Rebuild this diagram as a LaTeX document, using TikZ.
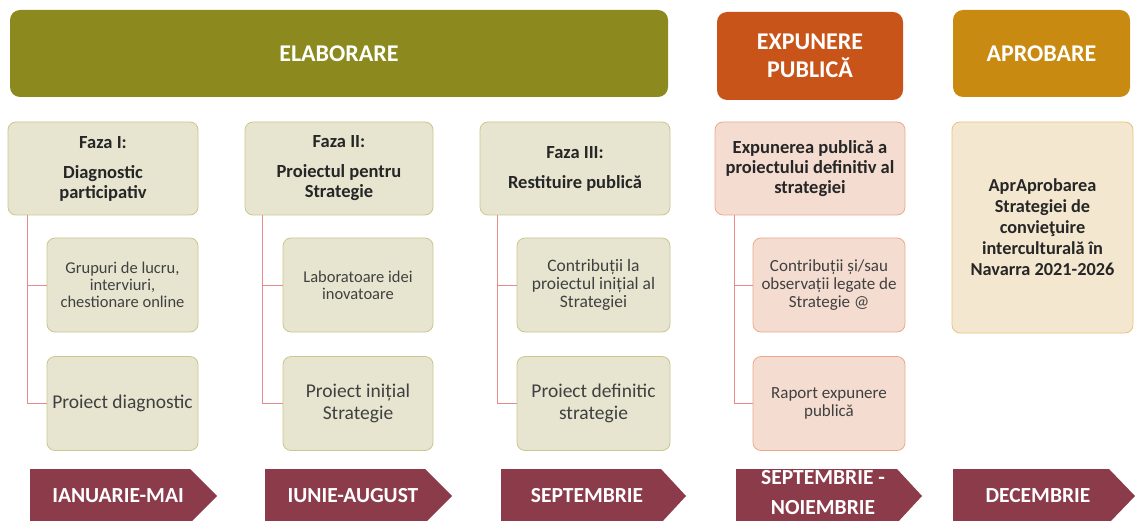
\documentclass[tikz,border=0pt]{standalone}
\usepackage{fontspec}
\setmainfont{Carlito}
\usepackage{xcolor}
\usepackage{tikz}

% culori
\definecolor{elabcol}{HTML}{8C8A1F}
\definecolor{expcol}{HTML}{C9541A}
\definecolor{aprcol}{HTML}{C98A12}
\definecolor{fazafill}{HTML}{E7E5D0}
\definecolor{fazadraw}{HTML}{C8C88C}
\definecolor{expfill}{HTML}{F4DDD0}
\definecolor{expdraw}{HTML}{EDA88A}
\definecolor{aprfill}{HTML}{F4E7D0}
\definecolor{aprdraw}{HTML}{EBC17E}
\definecolor{lunacol}{HTML}{8C3B4A}
\definecolor{liniecol}{HTML}{E88A8A}
\definecolor{textcol}{HTML}{262626}
\definecolor{subtextcol}{HTML}{404040}

\begin{document}
\begin{tikzpicture}[x=1pt,y=-1pt,
    antet/.style={rounded corners=10pt, inner sep=0pt, text=white, align=center,
        font=\bfseries\fontsize{24}{28}\selectfont},
    faza/.style={draw=fazadraw, fill=fazafill, line width=0.8pt, rounded corners=8pt,
        inner sep=0pt, minimum width=190pt, minimum height=93pt, align=center, text=textcol,
        font=\bfseries\fontsize{18.5}{20}\selectfont},
    sub/.style={faza, minimum width=151pt, minimum height=94pt, text=subtextcol,
        font=\fontsize{16.5}{17}\selectfont},
    mare/.style={font=\fontsize{19.5}{22}\selectfont},
    trunchi/.style={draw=liniecol, line width=0.8pt},
    luna/.style={text=white, align=center, font=\bfseries\fontsize{21.5}{30}\selectfont}
]
    \useasboundingbox (0,0) rectangle (1135,521);

    % antete
    \node[antet, fill=elabcol, minimum width=658pt, minimum height=87pt] (elab) at (339,53.5) {ELABORARE};
    \node[antet, fill=expcol, minimum width=186pt, minimum height=88pt] (expH) at (810,56) {EXPUNERE\\PUBLICĂ};
    \node[antet, fill=aprcol, minimum width=177pt, minimum height=87pt] (aprH) at (1041.5,53.5) {APROBARE};

    % fazele
    \node[faza] (f1) at (103,168.5) {Faza I:\\[10pt]Diagnostic\\participativ};
    \node[faza, minimum width=188pt] (f2) at (339,168.5) {Faza II:\\[10pt]Proiectul pentru\\Strategie};
    \node[faza] (f3) at (575,168.5) {Faza III:\\[10pt]Restituire publică};
    \node[faza, draw=expdraw, fill=expfill] (f4) at (810,168.5) {Expunerea publică a\\proiectului definitiv al\\strategiei};
    \node[faza, draw=aprdraw, fill=aprfill, minimum width=181pt, minimum height=211pt,
        font=\bfseries\fontsize{18.3}{21}\selectfont] (f5) at (1042.5,227.5)
        {AprAprobarea\\Strategiei de\\convieţuire\\interculturală în\\Navarra 2021-2026};

    % subactivitati
    \node[sub] (s11) at (122.5,285) {Grupuri de lucru,\\interviuri,\\chestionare online};
    \node[sub, mare] (s12) at (122.5,403.5) {Proiect diagnostic};
    \node[sub, minimum width=150pt] (s21) at (358,285) {Laboratoare idei\\inovatoare};
    \node[sub, mare, minimum width=150pt] (s22) at (358,403.5) {Proiect inițial\\Strategie};
    \node[sub, minimum width=153pt, font=\fontsize{17.5}{18}\selectfont] (s31) at (593.5,285) {Contribuții la\\proiectul inițial al\\Strategiei};
    \node[sub, mare, minimum width=153pt] (s32) at (593.5,403.5) {Proiect definitic\\strategie};
    \node[sub, draw=expdraw, fill=expfill, minimum width=152pt, font=\fontsize{17}{18}\selectfont] (s41) at (829,285) {Contribuții și/sau\\observații legate de\\Strategie @};
    \node[sub, draw=expdraw, fill=expfill, minimum width=152pt, font=\fontsize{17}{18}\selectfont] (s42) at (829,403.5) {Raport expunere\\publică};

    % linii de legatura
    \draw[trunchi] ([xshift=20pt]f1.south west) |- (s11.west);
    \draw[trunchi] ([xshift=20pt]f1.south west) |- (s12.west);
    \draw[trunchi] ([xshift=18pt]f2.south west) |- (s21.west);
    \draw[trunchi] ([xshift=18pt]f2.south west) |- (s22.west);
    \draw[trunchi] ([xshift=18pt]f3.south west) |- (s31.west);
    \draw[trunchi] ([xshift=18pt]f3.south west) |- (s32.west);
    \draw[trunchi] ([xshift=20pt]f4.south west) |- (s41.west);
    \draw[trunchi] ([xshift=20pt]f4.south west) |- (s42.west);

    % lunile (sageti)
    \fill[lunacol] (30,469) -- (190,469) -- (217,496) -- (190,523) -- (30,523) -- cycle;
    \node[luna] (m1) at (118,496) {IANUARIE-MAI};
    \fill[lunacol] (265,469) -- (425,469) -- (452,496) -- (425,523) -- (265,523) -- cycle;
    \node[luna] (m2) at (353,496) {IUNIE-AUGUST};
    \fill[lunacol] (501,469) -- (661,469) -- (686,496) -- (661,523) -- (501,523) -- cycle;
    \node[luna] (m3) at (587,496) {SEPTEMBRIE};
    \fill[lunacol] (736,469) -- (897,469) -- (922,496) -- (897,523) -- (736,523) -- cycle;
    \node[luna] (m4) at (823,493) {SEPTEMBRIE -\\NOIEMBRIE};
    \fill[lunacol] (953,469) -- (1109,469) -- (1135,496) -- (1109,523) -- (953,523) -- cycle;
    \node[luna] (m5) at (1038,496) {DECEMBRIE};
\end{tikzpicture}
\end{document}
